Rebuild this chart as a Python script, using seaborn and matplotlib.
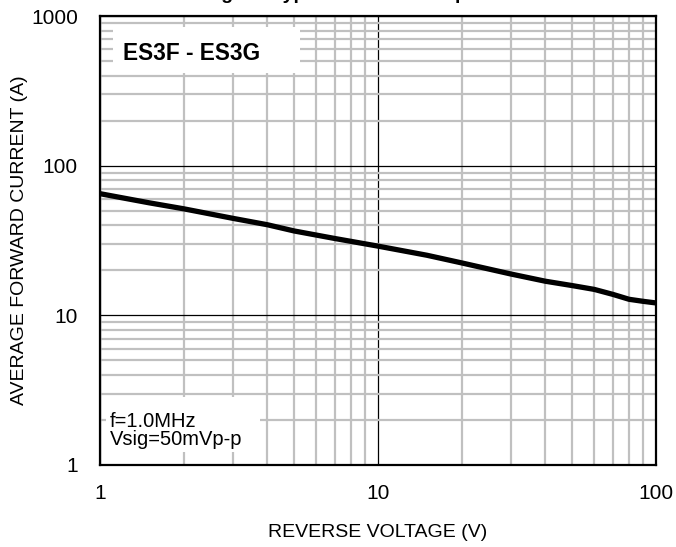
import matplotlib
matplotlib.use('Agg')
import matplotlib.pyplot as plt
import seaborn as sns
import pandas as pd
from matplotlib.patches import Rectangle
from matplotlib.ticker import LogLocator, NullFormatter, FixedLocator, FixedFormatter

# ---- data ----
voltage = [1, 1.5, 2, 3, 4, 5, 7, 10, 15, 20, 30, 40, 50, 60, 70, 80, 90, 100]
current = [65, 56.5, 51.5, 44.5, 40.3, 36.6, 32.6, 29, 25.2, 22.4, 18.9, 16.9, 15.8, 14.9, 13.8, 12.8, 12.4, 12.1]
x_ticks = [1, 10, 100]
x_tick_labels = ['1', '10', '100']
y_ticks = [1, 10, 100, 1000]
y_tick_labels = ['1', '10', '100', '1000']
title = 'Fig. 4 - Typical Junction Capacitance'
x_label = 'REVERSE VOLTAGE (V)'
y_label = 'AVERAGE FORWARD CURRENT (A)'
device_label = 'ES3F - ES3G'
cond_lines = ['f=1.0MHz', 'Vsig=50mVp-p']

df = pd.DataFrame({'v': voltage, 'c': current})

sns.set_theme(style='white')
plt.rcParams['font.family'] = ['Liberation Sans', 'DejaVu Sans']

W, H = 676, 547
fig = plt.figure(figsize=(W / 100, H / 100), dpi=100)
L, R, T, B = 100, 656, 16, 465
ax = fig.add_axes([L / W, 1 - B / H, (R - L) / W, (B - T) / H])

sns.lineplot(data=df, x='v', y='c', ax=ax, color='black', lw=3.8, zorder=4)

ax.set_xscale('log')
ax.set_yscale('log')
ax.set_xlim(1, 100)
ax.set_ylim(1, 1000)

ax.xaxis.set_major_locator(FixedLocator(x_ticks))
ax.xaxis.set_major_formatter(FixedFormatter(x_tick_labels))
ax.yaxis.set_major_locator(FixedLocator(y_ticks))
ax.yaxis.set_major_formatter(FixedFormatter(y_tick_labels))
ax.xaxis.set_minor_locator(LogLocator(base=10, subs=range(2, 10)))
ax.yaxis.set_minor_locator(LogLocator(base=10, subs=range(2, 10)))
ax.xaxis.set_minor_formatter(NullFormatter())
ax.yaxis.set_minor_formatter(NullFormatter())

ax.set_axisbelow(True)
ax.grid(which='minor', color='#c0c0c0', lw=1.6)
ax.grid(which='major', color='black', lw=0.9)

ax.tick_params(which='both', length=0)
ax.tick_params(axis='x', labelsize=15, pad=14, colors='black')
ax.tick_params(axis='y', labelsize=15, pad=16, colors='black')

for s in ax.spines.values():
    s.set_color('black')
    s.set_linewidth(1.6)
    s.set_visible(True)

ax.set_xlabel(x_label, fontsize=14, color='black', labelpad=15)
ax.set_ylabel(y_label, fontsize=14, color='black', labelpad=2)

# white label boxes
ax.add_patch(Rectangle((13 / 556, 1 - 57 / 449), 187 / 556, 46 / 449,
                       transform=ax.transAxes, facecolor='white', edgecolor='none', zorder=1))
ax.text(23 / 556, 1 - 37 / 449, device_label, transform=ax.transAxes,
        ha='left', va='center', fontsize=16.3, fontweight='bold', color='black', zorder=5)

ax.add_patch(Rectangle((6 / 556, 13 / 449), 154 / 556, 55 / 449,
                       transform=ax.transAxes, facecolor='white', edgecolor='none', zorder=1))
ax.text(10 / 556, 53 / 449, '\n'.join(cond_lines), transform=ax.transAxes,
        ha='left', va='top', fontsize=14.5, linespacing=0.92, color='black', zorder=5)

fig.text(374 / W, 1 + 1 / H, title, ha='center', va='baseline',
         fontsize=14, fontweight='bold', color='black')

fig.savefig('out.png', dpi=100)
